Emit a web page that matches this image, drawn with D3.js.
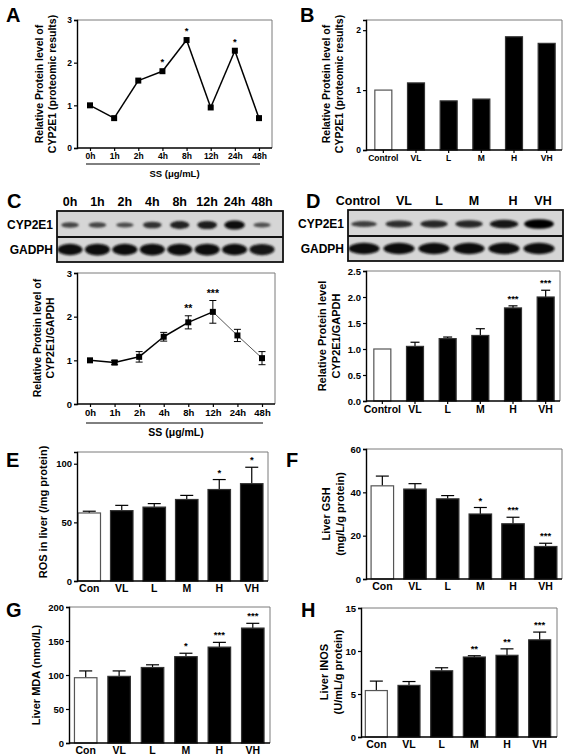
<!DOCTYPE html>
<html><head><meta charset="utf-8">
<script src="https://cdn.jsdelivr.net/npm/d3@7"></script>
<style>
body{margin:0;background:#fff;}
svg{display:block;font-family:"Liberation Sans",Arial,sans-serif;font-weight:bold;}
</style></head><body>
<svg id="fig" width="567" height="756"></svg>
<script>
// ---------- DATA ----------
const timeLabels = ["0h","1h","2h","4h","8h","12h","24h","48h"];
const doseLabels = ["Control","VL","L","M","H","VH"];
const groupLabels = ["Con","VL","L","M","H","VH"];

const aValues = [1.0,0.7,1.58,1.8,2.53,0.95,2.28,0.7];
const aStars  = ["","","","*","*","","*",""];

const bValues = [1.0,1.12,0.82,0.85,1.89,1.78];

const cValues = [1.0,0.95,1.08,1.54,1.87,2.11,1.57,1.05];
const cErrors = [0.03,0.05,0.12,0.1,0.15,0.26,0.14,0.15];
const cStars  = ["","","","","**","***","",""];

const dValues = [1.0,1.05,1.2,1.26,1.79,2.0];
const dErrors = [0,0.08,0.03,0.13,0.04,0.13];
const dStars  = ["","","","","***","***"];

const eValues = [58,60,63,69.5,78,83];
const eErrors = [1.5,4.5,3,3.5,8.5,14];
const eStars  = ["","","","","*","*"];

const fValues = [43,41.5,37,30,25.5,15];
const fErrors = [4.5,2.5,1.5,3,3,1.5];
const fStars  = ["","","","*","***","***"];

const gValues = [96,98,111,127,141,169];
const gErrors = [10,8,4,5,7,7];
const gStars  = ["","","","*","***","***"];

const hValues = [5.4,6.0,7.7,9.3,9.5,11.3];
const hErrors = [1.1,0.45,0.35,0.15,0.75,0.9];
const hStars  = ["","","","**","**","***"];

// western blot band strengths (0..1)
const cBlotCyp = [0.45,0.45,0.38,0.6,0.75,0.8,0.95,0.35];
const cBlotGapdh = [0.9,0.95,0.9,0.95,0.95,0.95,0.9,0.85];
const dBlotCyp = [0.5,0.65,0.7,0.7,0.85,1.0];
const dBlotGapdh = [0.9,0.9,0.9,0.92,0.92,0.92];

// ---------- DRAW ----------
const svg = d3.select("#fig");
const defs = svg.append("defs");
defs.append("filter").attr("id","blur").attr("x","-30%").attr("y","-100%").attr("width","160%").attr("height","300%")
  .append("feGaussianBlur").attr("stdDeviation","1.3 1.1");
const bandColor = d3.interpolateRgb("#d6d6d6","#050505");

function letter(t,x,y){ svg.append("text").attr("x",x).attr("y",y).attr("font-size",20).text(t); }

function frame(g,x0,x1,y0,y1){
  g.append("line").attr("x1",x0).attr("x2",x1).attr("y1",y0).attr("y2",y0).attr("stroke","#7a7a7a").attr("stroke-width",1);
  g.append("line").attr("x1",x1).attr("x2",x1).attr("y1",y0).attr("y2",y1).attr("stroke","#7a7a7a").attr("stroke-width",1);
}

function yTitle(lines,x,yc,fs){
  lines.forEach((l,i)=>{
    svg.append("text").attr("transform",`translate(${x+i*(fs+2.5)},${yc}) rotate(-90)`)
      .attr("text-anchor","middle").attr("font-size",fs).text(l);
  });
}

function styleAxis(ax,fs){
  ax.select(".domain").attr("stroke","#000").attr("stroke-width",1.4);
  ax.selectAll(".tick line").attr("stroke","#000").attr("stroke-width",1.2);
  ax.selectAll("text").attr("font-size",fs).attr("font-weight","bold").attr("font-family","'Liberation Sans',Arial,sans-serif").attr("fill","#000");
}

function lineChart(o){
  const g = svg.append("g");
  const x = d3.scalePoint().domain(o.cats).range([o.px0,o.px1]);
  const y = d3.scaleLinear().domain([0,o.ymax]).range([o.y1,o.y0]);
  frame(g,o.x0,o.x1,o.y0,o.y1);
  const ya = g.append("g").attr("transform",`translate(${o.x0},0)`).call(d3.axisLeft(y).tickValues(o.yticks).tickFormat(d3.format("d")).tickSizeOuter(0).tickSize(3).tickPadding(2));
  styleAxis(ya,o.fs);
  const xa = g.append("g").attr("transform",`translate(0,${o.y1})`).call(d3.axisBottom(x).tickSize(3).tickPadding(2).tickSizeOuter(0));
  xa.select(".domain").remove();
  xa.append("line").attr("x1",o.x0).attr("x2",o.x1).attr("stroke","#000").attr("stroke-width",1.4);
  styleAxis(xa,o.fs);
  g.append("line").attr("x1",o.px0-4).attr("x2",o.px1+1).attr("y1",o.brY).attr("y2",o.brY).attr("stroke","#000").attr("stroke-width",1);
  g.append("text").attr("x",(o.px0+o.px1)/2).attr("y",o.brY+13).attr("text-anchor","middle").attr("font-size",o.fs+1).text("SS (μg/mL)");
  const pts = o.cats.map((c,i)=>({c,v:o.vals[i],e:o.errs?o.errs[i]:0,s:o.stars[i]}));
  for(let i=0;i<pts.length-1;i++){
    const thin = o.thinFrom!==undefined && i>=o.thinFrom;
    g.append("line").attr("x1",x(pts[i].c)).attr("y1",y(pts[i].v)).attr("x2",x(pts[i+1].c)).attr("y2",y(pts[i+1].v))
      .attr("stroke",thin?"#444":"#000").attr("stroke-width",thin?0.9:1.5);
  }
  if(o.errs){
    pts.forEach(p=>{
      if(p.e<=0.035) return;
      const cx=x(p.c);
      g.append("line").attr("x1",cx).attr("x2",cx).attr("y1",y(p.v+p.e)).attr("y2",y(p.v-p.e)).attr("stroke","#000").attr("stroke-width",1);
      [p.v+p.e,p.v-p.e].forEach(v=>g.append("line").attr("x1",cx-3.5).attr("x2",cx+3.5).attr("y1",y(v)).attr("y2",y(v)).attr("stroke","#000").attr("stroke-width",1));
    });
  }
  g.selectAll("rect.pt").data(pts).enter().append("rect")
    .attr("x",d=>x(d.c)-3).attr("y",d=>y(d.v)-3).attr("width",6).attr("height",6).attr("fill","#000");
  pts.forEach(p=>{
    if(!p.s) return;
    g.append("text").attr("x",x(p.c)).attr("y",y(p.v+p.e)-(o.errs?4:6)).attr("text-anchor","middle").attr("font-size",o.fs+1).text(p.s);
  });
}

function barChart(o){
  const g = svg.append("g");
  const x = d3.scaleBand().domain(o.cats).range([o.bx0,o.bx1]);
  const y = d3.scaleLinear().domain([0,o.ymax]).range([o.y1,o.y0]);
  frame(g,o.x0,o.x1,o.y0,o.y1);
  const data = o.cats.map((c,i)=>({c,v:o.vals[i],e:o.errs?o.errs[i]:0,s:o.stars?o.stars[i]:""}));
  const cx = c => x(c)+x.bandwidth()/2;
  data.forEach(d=>{
    if(!o.errs || d.e<=0) return;
    g.append("line").attr("x1",cx(d.c)).attr("x2",cx(d.c)).attr("y1",y(d.v)).attr("y2",y(d.v+d.e)).attr("stroke","#000").attr("stroke-width",1.2);
    g.append("line").attr("x1",cx(d.c)-o.cap).attr("x2",cx(d.c)+o.cap).attr("y1",y(d.v+d.e)).attr("y2",y(d.v+d.e)).attr("stroke","#000").attr("stroke-width",1.2);
  });
  g.selectAll("rect.bar").data(data).enter().append("rect")
    .attr("x",d=>cx(d.c)-o.bw/2).attr("width",o.bw)
    .attr("y",d=>y(d.v)).attr("height",d=>y(0)-y(d.v))
    .attr("fill",(d,i)=>i===0?"#fff":"#000")
    .attr("stroke",(d,i)=>i===0?"#555":"#333").attr("stroke-width",1.2);
  data.forEach(d=>{
    if(!d.s) return;
    g.append("text").attr("x",cx(d.c)).attr("y",y(d.v+d.e)-4).attr("text-anchor","middle").attr("font-size",o.fs).text(d.s);
  });
  const ya = g.append("g").attr("transform",`translate(${o.x0},0)`).call(d3.axisLeft(y).tickValues(o.yticks).tickFormat(o.fmt).tickSizeOuter(0).tickSize(3).tickPadding(2));
  styleAxis(ya,o.fs);
  const xa = g.append("g").attr("transform",`translate(0,${o.y1})`).call(d3.axisBottom(x).tickSize(o.xtick||0).tickPadding(o.xpad||3).tickSizeOuter(0));
  xa.select(".domain").remove();
  xa.append("line").attr("x1",o.x0).attr("x2",o.x1).attr("stroke","#000").attr("stroke-width",1.4);
  styleAxis(xa,o.xfs||o.fs);
}

function blot(o){
  const g = svg.append("g");
  const x = d3.scalePoint().domain(o.cats).range([o.lx0,o.lx1]);
  [[o.y0,o.y1],[o.y1,o.y2]].forEach(([a,b])=>{
    g.append("rect").attr("x",o.x0).attr("y",a).attr("width",o.x1-o.x0).attr("height",b-a).attr("fill","#d6d6d6");
  });
  const bands = g.append("g").attr("filter","url(#blur)");
  o.cats.forEach((c,i)=>{
    const s=o.cyp[i];
    bands.append("ellipse").attr("cx",x(c)).attr("cy",(o.y0+o.y1)/2+1)
      .attr("rx",o.bandW/2*(0.8+0.3*s)).attr("ry",1.2+3.6*s)
      .attr("fill",bandColor(0.45+0.55*s));
    const t=o.gap[i];
    bands.append("ellipse").attr("cx",x(c)).attr("cy",(o.y1+o.y2)/2)
      .attr("rx",o.gapW/2).attr("ry",3.5+2.5*t)
      .attr("fill",bandColor(0.5+0.5*t));
  });
  g.append("rect").attr("x",o.x0).attr("y",o.y0).attr("width",o.x1-o.x0).attr("height",o.y2-o.y0).attr("fill","none").attr("stroke","#111").attr("stroke-width",1.8);
  g.append("line").attr("x1",o.x0).attr("x2",o.x1).attr("y1",o.y1).attr("y2",o.y1).attr("stroke","#111").attr("stroke-width",2);
  o.cats.forEach((c,i)=>{
    g.append("text").attr("x",x(c)+(o.lblDx?o.lblDx[i]:0)).attr("y",o.y0-5).attr("text-anchor","middle").attr("font-size",12.5).text(c);
  });
  g.append("text").attr("x",o.x0-4).attr("y",(o.y0+o.y1)/2+4.5).attr("text-anchor","end").attr("font-size",12).text("CYP2E1");
  g.append("text").attr("x",o.x0-4).attr("y",(o.y1+o.y2)/2+4.5).attr("text-anchor","end").attr("font-size",12).text("GADPH");
}

// ---- Panel A ----
letter("A",6,22);
lineChart({cats:timeLabels,vals:aValues,stars:aStars,ymax:3,yticks:[0,1,2,3],
  x0:77,x1:272,y0:20,y1:148,px0:90,px1:259,fs:8.5,brY:164});
yTitle(["Relative Protein level of","CYP2E1 (proteomic results)"],43,84,10.5);

// ---- Panel B ----
letter("B",300,22);
barChart({cats:doseLabels,vals:bValues,ymax:2.17,yticks:[0,1,2],fmt:d3.format("d"),
  x0:366,x1:562,y0:20,y1:150,bx0:367,bx1:563,bw:17,fs:8.5,xtick:3,xpad:2});
yTitle(["Relative Protein level of","CYP2E1 (proteomic results)"],330,84,10.5);

// ---- Panel C blot ----
letter("C",7,208);
blot({cats:timeLabels,cyp:cBlotCyp,gap:cBlotGapdh,x0:57,x1:283,y0:211,y1:237,y2:262,lx0:70,lx1:262,bandW:19,gapW:25});
// ---- Panel C chart ----
lineChart({cats:timeLabels,vals:cValues,errs:cErrors,stars:cStars,ymax:3,yticks:[0,1,2,3],
  x0:77,x1:275,y0:273,y1:404,px0:90,px1:262,fs:9.5,brY:423,thinFrom:5});
yTitle(["Relative Protein level of","CYP2E1/GAPDH"],41,338,10.5);

// ---- Panel D blot ----
letter("D",306,208);
blot({cats:doseLabels,cyp:dBlotCyp,gap:dBlotGapdh,x0:348,x1:563,y0:210,y1:236,y2:261,lx0:364,lx1:539,bandW:27,gapW:31,lblDx:[-6,5,5,5,9,4]});
// ---- Panel D chart ----
barChart({cats:doseLabels,vals:dValues,errs:dErrors,stars:dStars,ymax:2.5,yticks:[0,0.5,1,1.5,2,2.5],fmt:d3.format(".1f"),
  x0:366,x1:560,y0:271,y1:401,bx0:366,bx1:562,bw:17,cap:4.5,fs:9.5,xfs:10.5,xtick:3,xpad:2});
yTitle(["Relative Protein level","CYP2E1/GAPDH"],326,336,11);

// ---- Panel E ----
letter("E",6,467);
barChart({cats:groupLabels,vals:eValues,errs:eErrors,stars:eStars,ymax:110,yticks:[0,50,100],fmt:d3.format("d"),
  x0:77,x1:268,y0:452,y1:581,bx0:73,bx1:268,bw:22.5,cap:6.5,fs:9.5,xfs:10.5,xpad:4});
yTitle(["ROS in liver (/mg protein)"],47,512,11);

// ---- Panel F ----
letter("F",286,467);
barChart({cats:groupLabels,vals:fValues,errs:fErrors,stars:fStars,ymax:60,yticks:[0,20,40,60],fmt:d3.format("d"),
  x0:366,x1:562,y0:449,y1:579,bx0:366,bx1:562,bw:22.5,cap:6.5,fs:9.5,xfs:10.5,xpad:4});
yTitle(["Liver GSH","(mg/L/g protein)"],330,514,11);

// ---- Panel G ----
letter("G",6,617);
barChart({cats:groupLabels,vals:gValues,errs:gErrors,stars:gStars,ymax:200,yticks:[0,50,100,150,200],fmt:d3.format("d"),
  x0:69,x1:270,y0:607,y1:743,bx0:69,bx1:269.5,bw:22.5,cap:6.5,fs:9.5,xfs:10.5,xpad:4});
yTitle(["Liver MDA (nmol/L)"],40,675,11);

// ---- Panel H ----
letter("H",301,617);
barChart({cats:groupLabels,vals:hValues,errs:hErrors,stars:hStars,ymax:15,yticks:[0,5,10,15],fmt:d3.format("d"),
  x0:361,x1:557,y0:608,y1:737,bx0:360,bx1:556,bw:22,cap:6.5,fs:9.5,xfs:10.5,xpad:4});
yTitle(["Liver INOS","(U/mL/g protein)"],328,672,11);
</script></body></html>
